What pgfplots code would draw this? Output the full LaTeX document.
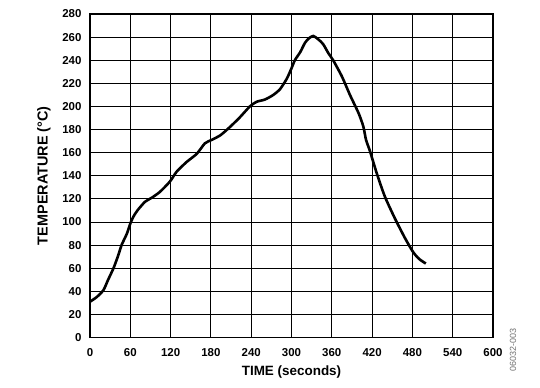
\documentclass[border=0pt]{standalone}
\usepackage{pgfplots}
\pgfplotsset{compat=1.18}
\usepackage{fontspec}
\setmainfont{Liberation Sans}
\begin{document}
\begin{tikzpicture}
\path[use as bounding box] (-90bp,-50.5bp) rectangle (450bp,337.5bp);
\begin{axis}[
  scale only axis,
  width=403bp, height=323.5bp,
  xmin=0, xmax=600, ymin=0, ymax=280,
  xtick={0,60,...,600}, ytick={0,20,...,280},
  grid=major,
  major grid style={black, line width=0.9bp},
  axis line style={black, line width=1.8bp},
  tick style={draw=none},
  /pgf/number format/assume math mode=true,
  ticklabel style={font=\fontsize{11.5}{12}\selectfont\bfseries},
  xticklabel style={anchor=center, yshift=-15bp},
  yticklabel style={anchor=east, xshift=-5bp},
  xlabel={TIME (seconds)},
  ylabel={TEMPERATURE (°C)},
  xlabel style={font=\fontsize{13.5}{15}\selectfont\bfseries, at={(axis description cs:0.5,0)}, anchor=center, yshift=-34.5bp},
  ylabel style={font=\fontsize{14.5}{16}\selectfont\bfseries, at={(axis description cs:0,0.5)}, anchor=center, yshift=46bp},
  clip=false,
]
\addplot[black, line width=2.6bp, smooth, tension=0.4] coordinates {
(0,31) (10,35) (20,41) (27,50) (35,60) (42,71) (47,80) (55,90) (60.5,99.4)
(66,106) (72,111) (82,117.5) (92,121) (104,126) (119,135) (129,143.5) (144,152)
(159,159) (171,168) (181,171) (194,175) (208,182) (223,190.5) (238,200)
(248,204) (260.6,206) (273,210) (283,215) (293,224) (300,233) (305,240)
(313,247) (320,255) (326,259) (332.5,261) (340,258) (347,254) (355,246)
(362,240) (375,226) (387,210) (400,194) (407,182.5) (411,171) (417,161)
(427,142) (439,122) (454,103) (469,86) (481,74) (490,68) (500,64)
};
\end{axis}
\node[rotate=90, text=black!55, font=\fontsize{9}{10}\selectfont, anchor=center, inner sep=0pt] at (423bp,-12.5bp) {06032-003};
\end{tikzpicture}
\end{document}
